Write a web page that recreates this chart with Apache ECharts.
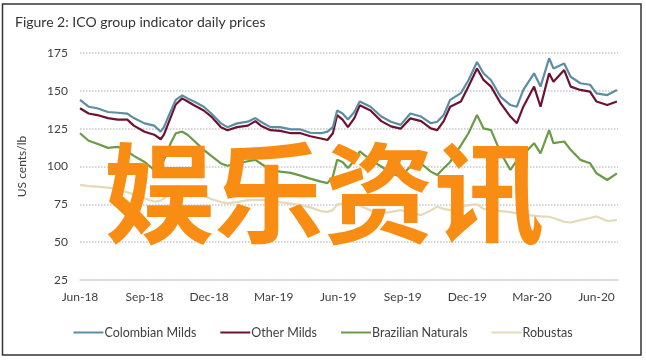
<!DOCTYPE html>
<html>
<head>
<meta charset="utf-8">
<script src="https://cdn.jsdelivr.net/npm/echarts@6/dist/echarts.min.js"></script>
<style>html,body{margin:0;padding:0;background:#fff}#c{width:646px;height:360px}</style>
</head>
<body>
<div id="c"></div>
<script>
// x positions in months since 1 Jun 2018
var monthPos = [0, 0.4, 0.8, 1.3, 1.75, 2.2, 2.5, 3.0, 3.45, 3.75, 3.9, 4.2, 4.45, 4.75, 5.0, 5.3, 5.75, 6.1, 6.55, 6.85, 7.3, 7.8, 8.15, 8.4, 8.85, 9.3, 9.8, 10.25, 10.7, 11.2, 11.5, 11.75, 11.95, 12.2, 12.45, 12.75, 13.0, 13.5, 14.0, 14.45, 14.9, 15.35, 15.85, 16.3, 16.6, 16.9, 17.2, 17.7, 18.05, 18.45, 18.75, 19.1, 19.55, 20.0, 20.3, 20.6, 21.1, 21.4, 21.8, 22.0, 22.5, 22.8, 23.25, 23.7, 24.0, 24.5, 24.95];
var colombianMilds = [144, 139.5, 138.5, 136, 135.5, 135, 132, 128.5, 127, 123, 126, 136, 144, 147, 145, 143, 139.5, 135, 128.5, 126, 128.5, 129.6, 132, 129.6, 126, 126, 124.5, 124.5, 122.3, 122, 123, 126, 137, 135, 131, 136, 143, 139.5, 133, 129.6, 127.5, 135, 133, 128.6, 129.6, 134, 144, 148.5, 157, 169, 161.6, 157, 146, 140.6, 139.5, 150.6, 161.6, 152.8, 171.5, 164.8, 168, 159.3, 155, 154, 148.3, 147.2, 150.6];
var otherMilds = [138.5, 135, 134, 132, 131, 131, 127, 123, 121, 118, 121, 132, 141, 145, 143, 140.5, 137, 133, 126, 124, 126, 127, 130, 127, 124, 123.5, 122, 122, 120, 118.5, 117.5, 122, 134, 131, 126, 132, 140.5, 137, 130, 126.5, 125, 131.8, 130, 125.2, 124, 130, 139.5, 143, 152.8, 164.8, 157.2, 152.8, 141.7, 133, 128.6, 139.5, 152.8, 139.5, 161.6, 156, 163.7, 152.8, 150.6, 149.5, 142.9, 140.6, 142.9];
var brazilianNaturals = [122, 117, 115, 112.3, 113, 110, 107, 103, 97.7, 100, 104.4, 115, 122, 123, 121, 117, 111, 107, 102, 100.5, 102, 103.5, 104.4, 102, 97.7, 96.6, 95.8, 94, 92, 90, 89, 93.3, 104.4, 103, 99, 104, 110, 104.4, 100, 95.5, 93.3, 100, 102, 96.6, 94.4, 98.8, 103, 114, 122, 134, 125.2, 124, 109, 97.7, 104, 108, 115.4, 108.7, 124, 115.4, 116.5, 111, 104.4, 102.2, 95.5, 91.1, 95.5];
var robustas = [87.8, 87, 86.7, 86, 85, 83, 81.5, 79, 76.7, 77.5, 79, 82, 87, 86, 84.5, 83, 80.5, 78.5, 76.5, 75.6, 76.5, 77.8, 78, 78, 77.5, 76.5, 75.5, 74.5, 73, 70.5, 70, 71.2, 75, 75.6, 75.6, 75.5, 74, 71, 69, 70, 71.2, 69.5, 67.9, 71, 73.4, 72, 71.2, 73, 74.5, 75, 72, 71.2, 70.5, 69.8, 69, 68, 67.5, 67, 66.8, 66, 63.5, 63, 64.6, 66, 67, 64, 64.6];
var tickLabels = ['Jun-18', 'Sep-18', 'Dec-18', 'Mar-19', 'Jun-19', 'Sep-19', 'Dec-19', 'Mar-20', 'Jun-20'];
var seriesNames = ['Colombian Milds', 'Other Milds', 'Brazilian Naturals', 'Robustas'];
var seriesColors = ['#5b8ea2', '#6e1234', '#6a9b46', '#e3dab9'];
var titleText = 'Figure 2: ICO group indicator daily prices';
var yAxisName = 'US cents/lb';
var watermark = '娱乐资讯';

function pairs(vals) { return vals.map(function (v, i) { return [monthPos[i], v]; }); }
var allVals = [colombianMilds, otherMilds, brazilianNaturals, robustas];
var font = 'Lato, "Open Sans", sans-serif';

var chart = echarts.init(document.getElementById('c'), null, {renderer: 'canvas'});
chart.setOption({
  animation: false,
  backgroundColor: '#fff',
  title: {text: titleText, left: 10, top: 10, textStyle: {fontFamily: font, fontSize: 14, fontWeight: 'normal', color: '#333'}},
  grid: {left: 80, right: 28, top: 53, bottom: 80},
  xAxis: {
    type: 'value', min: 0, max: 25, interval: 3,
    axisLine: {show: true, lineStyle: {color: '#d9d9d9', width: 1.5}},
    axisTick: {show: false},
    splitLine: {show: false},
    axisLabel: {showMaxLabel: false, margin: 11, fontFamily: font, fontSize: 12, color: '#404040',
      formatter: function (v) { var i = Math.round(v / 3); return (v % 3 === 0 && tickLabels[i]) ? tickLabels[i] : ''; }}
  },
  yAxis: {
    type: 'value', min: 25, max: 175, interval: 25,
    name: yAxisName, nameLocation: 'middle', nameGap: 52, nameRotate: 90,
    nameTextStyle: {fontFamily: font, fontSize: 12, color: '#404040'},
    axisLine: {show: false}, axisTick: {show: false},
    axisLabel: {margin: 12, fontFamily: font, fontSize: 12, color: '#404040'},
    splitLine: {lineStyle: {color: '#c8c8c8', type: [1.5, 1.5], width: 1.5}}
  },
  legend: {
    bottom: 16, left: 'center', icon: 'rect', itemWidth: 30, itemHeight: 2, itemGap: 24,
    textStyle: {fontFamily: font, fontSize: 12.5, color: '#404040', padding: [0, 0, 0, -4]},
    data: seriesNames
  },
  series: seriesNames.map(function (n, k) {
    return {name: n, type: 'line', symbol: 'none', data: pairs(allVals[k]), z: 10 - k,
      lineStyle: {color: seriesColors[k], width: 2.2}, itemStyle: {color: seriesColors[k]}};
  }),
  graphic: [
    {type: 'rect', shape: {x: 2.5, y: 4, width: 638.5, height: 351}, style: {fill: 'none', stroke: '#333', lineWidth: 1.5}, z: 100},
    {type: 'text', x: 324, y: 193, z: 100, style: {text: watermark, fontFamily: '"Noto Sans CJK SC"', fontWeight: 'bold', fontSize: 110, fill: '#f98d14', align: 'center', verticalAlign: 'middle'}}
  ]
});
</script>
</body>
</html>
